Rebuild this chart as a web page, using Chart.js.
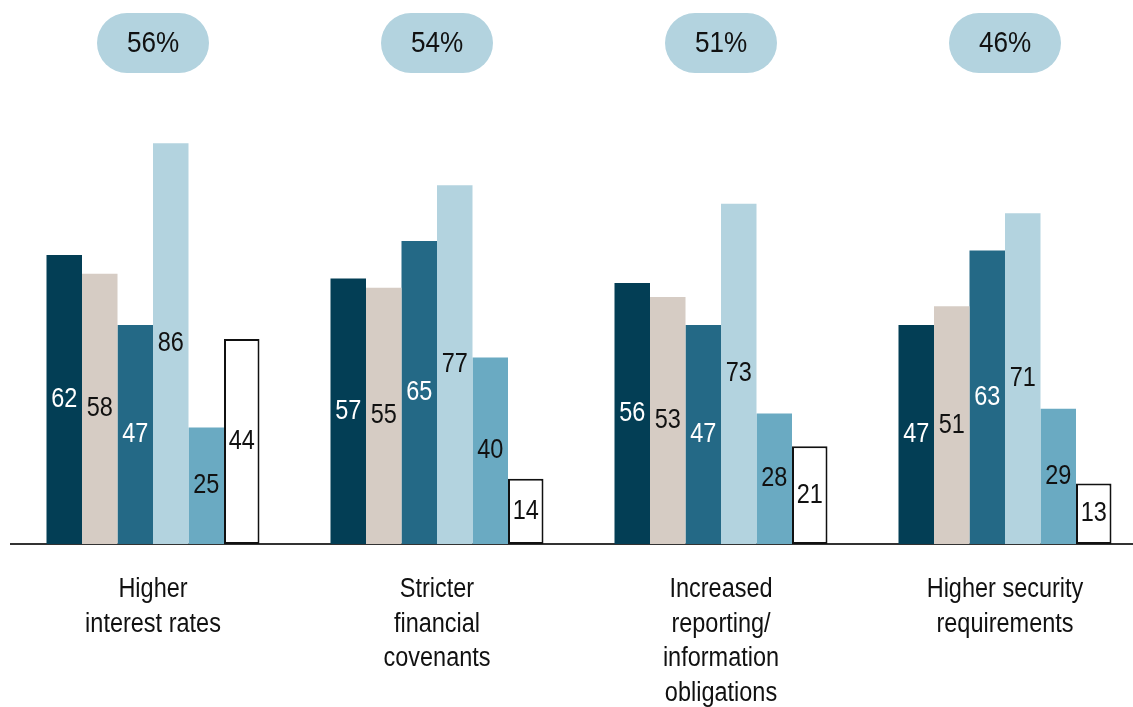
<!DOCTYPE html>
<html>
<head>
<meta charset="utf-8">
<script src="https://cdn.jsdelivr.net/npm/chart.js@4"></script>
<style>
  html, body { margin: 0; padding: 0; background: #fff; overflow: hidden; }
  #wrap { position: relative; width: 1147px; height: 707px; }
</style>
</head>
<body>
<div id="wrap"><canvas id="chart"></canvas></div>
<script>
// categories, shown under each group
const categories = [
    ['Higher', 'interest rates'],
    ['Stricter', 'financial', 'covenants'],
    ['Increased', 'reporting/', 'information', 'obligations'],
    ['Higher security', 'requirements']
];

// share shown in the pill above each group
const pillLabels = ['56%', '54%', '51%', '46%'];

// six series, one value per category
const series1 = [62, 57, 56, 47];
const series2 = [58, 55, 53, 51];
const series3 = [47, 65, 47, 63];
const series4 = [86, 77, 73, 71];
const series5 = [25, 40, 28, 29];
const series6 = [44, 14, 21, 13];

const seriesNames = ['Series 1', 'Series 2', 'Series 3', 'Series 4', 'Series 5', 'Series 6'];
const seriesColors = ['#033e55', '#d6ccc4', '#246986', '#b3d3df', '#6aaac2', '#ffffff'];
const labelColors = ['#ffffff', '#111111', '#ffffff', '#111111', '#111111', '#111111'];

const FONT = "'Liberation Sans', Arial, sans-serif";
const SQUEEZE = 0.87; // the original type is a narrow face

// draw text squeezed horizontally, centred on x, y
function narrowText(ctx, text, x, y) {
    ctx.save();
    ctx.translate(x, y);
    ctx.scale(SQUEEZE, 1);
    ctx.textAlign = 'center';
    ctx.textBaseline = 'middle';
    ctx.fillText(text, 0, 0);
    ctx.restore();
}

// value labels in the middle of each bar
const valueLabels = {
    id: 'valueLabels',
    afterDatasetsDraw(chart) {
        const ctx = chart.ctx;
        ctx.save();
        ctx.font = `27px ${FONT}`;
        chart.data.datasets.forEach((ds, i) => {
            chart.getDatasetMeta(i).data.forEach((bar, j) => {
                ctx.fillStyle = labelColors[i];
                narrowText(ctx, ds.data[j], bar.x, (bar.y + bar.base) / 2);
            });
        });
        ctx.restore();
    }
};

// category names under the axis and pills above each group
const extras = {
    id: 'extras',
    afterDraw(chart) {
        const ctx = chart.ctx;
        const xs = chart.scales.x;
        const base = chart.chartArea.bottom;
        ctx.save();
        ctx.fillStyle = '#111111';
        ctx.font = `27px ${FONT}`;
        categories.forEach((lines, i) => {
            const cx = xs.getPixelForValue(i);
            lines.forEach((line, k) => {
                narrowText(ctx, line, cx, base + 46 + k * 34.5);
            });
        });

        const cy = chart.chartArea.top - 35;
        const w = 112, h = 60;
        pillLabels.forEach((txt, i) => {
            const cx = xs.getPixelForValue(i);
            ctx.fillStyle = '#b3d3df';
            ctx.beginPath();
            ctx.roundRect(cx - w / 2, cy - h / 2, w, h, h / 2);
            ctx.fill();
            ctx.fillStyle = '#111111';
            ctx.font = `30px ${FONT}`;
            narrowText(ctx, txt, cx, cy + 1);
        });
        ctx.restore();
    }
};

const allSeries = [series1, series2, series3, series4, series5, series6];

new Chart(document.getElementById('chart'), {
    type: 'bar',
    data: {
        labels: categories,
        datasets: allSeries.map((data, i) => ({
            label: seriesNames[i],
            data,
            backgroundColor: seriesColors[i],
            borderColor: i === 5 ? '#111111' : seriesColors[i],
            borderWidth: i === 5 ? 2 : 0,
            borderSkipped: false,
            categoryPercentage: 0.75,
            barPercentage: 1
        }))
    },
    options: {
        responsive: true,
        maintainAspectRatio: false,
        animation: false,
        layout: { padding: { left: 11, right: 0, top: 78, bottom: 0 } },
        plugins: {
            legend: { display: false },
            tooltip: { enabled: false }
        },
        scales: {
            x: {
                grid: { display: false, drawTicks: false },
                border: { display: true, color: '#333333', width: 2 },
                ticks: { display: false },
                afterFit(scale) { scale.height = 163; }
            },
            y: {
                display: false,
                min: 0,
                max: 100,
                afterFit(scale) { scale.width = 0; }
            }
        }
    },
    plugins: [valueLabels, extras]
});
</script>
</body>
</html>
